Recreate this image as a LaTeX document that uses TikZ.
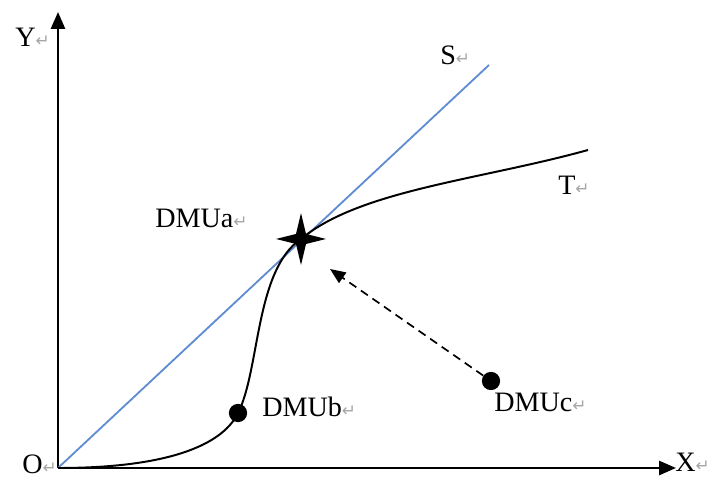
\documentclass[tikz,border=0pt]{standalone}
\usepackage{fontspec}
\setmainfont{Liberation Serif}
\newfontfamily\arrowfont{DejaVu Sans}
\usepackage{xcolor}
\usepackage{tikz}
\usetikzlibrary{arrows.meta,positioning}

\definecolor{sline}{RGB}{96,140,210}
\newcommand{\pmark}{{\arrowfont\fontsize{12}{12}\selectfont\color{gray!70}↵}}

\begin{document}
\begin{tikzpicture}[x=0.025cm,y=0.025cm,
  every node/.style={font=\fontsize{20}{24}\selectfont},
  lbl/.style={anchor=west,inner sep=0pt},
  dot/.style={circle,fill=black,inner sep=0pt,minimum size=13pt},
  axis/.style={line width=1.6pt,-{Triangle[length=12pt,width=10pt]}}]
\useasboundingbox (0,0) rectangle (717,481);

% Axes
\coordinate (o) at (58,13);
\coordinate (ytip) at (58,469);
\coordinate (xtip) at (676,13);
\draw[axis] (o) -- (ytip);
\draw[axis] (o) -- (xtip);
\node[lbl] (ylbl) at (15,444) {Y\pmark};
\node[lbl] (olbl) at (22,17) {O\pmark};
\node[lbl] (xlbl) at (675,19) {X\pmark};

% Frontier S
\coordinate (send) at (489,416);
\draw[sline,line width=1.3pt] (o) -- (send);
\node[lbl] (slbl) at (440,426) {S\pmark};

% Decision units
\node[dot] (dmub) at (238,68) {};
\node[dot] (dmuc) at (491,100) {};
\coordinate (dmua) at (301,242);

% Frontier T
\draw[line width=1.4pt] (o) .. controls (180,13) and (225,41) .. (dmub.center)
  .. controls (260,111) and (255,211) .. (dmua)
  .. controls (360,291) and (480,301) .. (588,331);
\node[lbl] (tlbl) at (558,296) {T\pmark};

% Star for DMUa
\fill[shift={(dmua)}] (-25,0) -- (-5,5) -- (0,26) -- (5,5) -- (25,0)
  -- (5,-5) -- (0,-26) -- (-5,-5) -- cycle;

% Projection of DMUc
\coordinate (proj) at (330,212);
\draw[line width=1.2pt,dash pattern=on 6pt off 4pt,
  -{Triangle[length=11pt,width=9pt]}] (dmuc) -- (proj);

% Labels
\node[lbl] (albl) at (155,263) {DMUa\pmark};
\node[lbl] (blbl) at (262,74) {DMUb\pmark};
\node[lbl] (clbl) at (494,79) {DMUc\pmark};
\end{tikzpicture}
\end{document}
